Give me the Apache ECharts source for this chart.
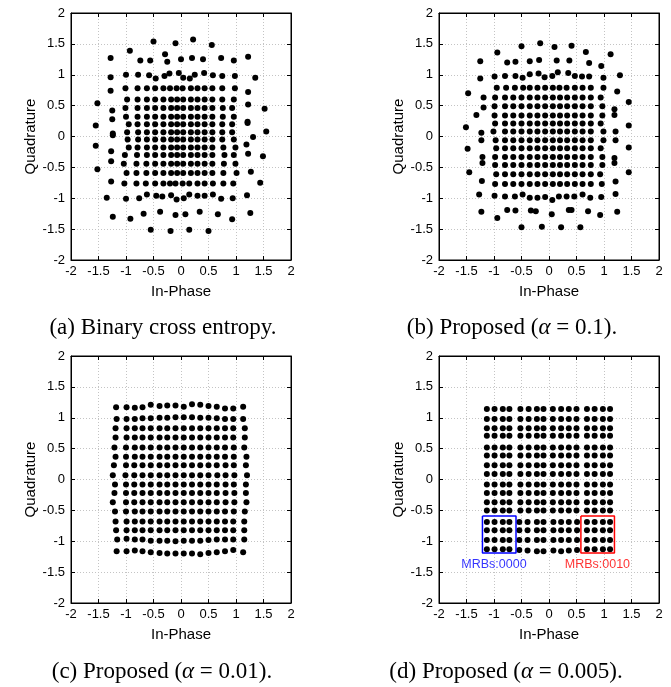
<!DOCTYPE html>
<html><head><meta charset="utf-8">
<script src="https://cdn.jsdelivr.net/npm/echarts@6/dist/echarts.min.js"></script>
<style>html,body{margin:0;padding:0;background:#fff}#c{width:671px;height:687px}</style>
</head><body><div id="c"></div>
<script>
// ---- Data ----
const tickValues = [-2, -1.5, -1, -0.5, 0, 0.5, 1, 1.5, 2];
const captions = ['(a) Binary cross entropy.', '(b) Proposed ({i|α} = 0.1).', '(c) Proposed ({i|α} = 0.01).', '(d) Proposed ({i|α} = 0.005).'];
const xName = 'In-Phase';
const yName = 'Quadrature';

// Panel (a): inner grid rows [y, xs] and outer points [x, y]
const aRows = [
  [0.78, [-1.01,-0.79,-0.62,-0.47,-0.32,-0.20,-0.08,0.03,0.18,0.30,0.43,0.57,0.75,0.98]],
  [0.60, [-0.98,-0.79,-0.62,-0.47,-0.32,-0.18,-0.07,0.04,0.18,0.30,0.43,0.57,0.75,0.96]],
  [0.46, [-1.01,-0.79,-0.62,-0.47,-0.32,-0.18,-0.07,0.04,0.18,0.30,0.43,0.57,0.76,0.93]],
  [0.32, [-1.00,-0.79,-0.62,-0.47,-0.32,-0.18,-0.07,0.04,0.18,0.30,0.43,0.57,0.76,0.96]],
  [0.20, [-0.95,-0.79,-0.62,-0.47,-0.32,-0.18,-0.07,0.04,0.18,0.30,0.43,0.57,0.75,0.93]],
  [0.07, [-0.98,-0.78,-0.62,-0.47,-0.32,-0.18,-0.07,0.04,0.18,0.30,0.43,0.57,0.75,0.93]],
  [-0.05,[-0.97,-0.78,-0.62,-0.47,-0.32,-0.18,-0.07,0.04,0.18,0.30,0.43,0.57,0.75,0.96]],
  [-0.18,[-0.95,-0.79,-0.62,-0.47,-0.32,-0.18,-0.07,0.04,0.18,0.30,0.43,0.57,0.77,0.99]],
  [-0.30,[-1.02,-0.80,-0.62,-0.47,-0.32,-0.18,-0.07,0.04,0.18,0.30,0.43,0.57,0.79,0.96]],
  [-0.44,[-1.04,-0.81,-0.63,-0.47,-0.32,-0.18,-0.07,0.04,0.18,0.30,0.43,0.57,0.78,0.99]],
  [-0.59,[-0.99,-0.81,-0.63,-0.47,-0.32,-0.18,-0.07,0.04,0.18,0.30,0.43,0.57,0.77,1.01]],
  [-0.76,[-1.03,-0.81,-0.64,-0.47,-0.32,-0.20,-0.10,0.03,0.15,0.30,0.43,0.58,0.77,0.95]]
];
const aOuter = [
  [-0.50,1.54],[-0.10,1.51],[0.22,1.57],[0.56,1.48],
  [-0.93,1.39],[-0.29,1.33],[-1.28,1.27],[1.22,1.29],[-0.74,1.23],[-0.56,1.23],[-0.25,1.21],[0.00,1.25],[0.20,1.27],[0.40,1.25],[0.73,1.27],[0.96,1.23],
  [-1.28,0.96],[-1.00,1.00],[-0.78,1.00],[-0.58,0.99],[-0.46,0.94],[-0.30,0.98],[-0.21,1.02],[-0.04,1.03],[0.04,0.95],[0.16,0.94],[0.25,1.00],[0.42,1.03],[0.58,0.99],[0.75,0.98],[0.98,0.98],[1.35,0.95],
  [-1.28,0.74],[-1.52,0.54],[-1.25,0.42],[-1.25,0.28],[-1.55,0.18],[-1.24,0.05],[-1.24,0.02],[-1.55,-0.15],[-1.27,-0.24],[-1.27,-0.40],[-1.52,-0.53],[-1.27,-0.73],
  [1.22,0.72],[1.22,0.52],[1.52,0.45],[1.21,0.24],[1.21,0.22],[1.55,0.08],[1.31,-0.01],[1.19,-0.13],[1.22,-0.28],[1.49,-0.32],[1.27,-0.57],[1.44,-0.75],
  [-1.35,-0.99],[-1.00,-1.01],[-0.76,-1.00],[-0.62,-0.94],[-0.45,-0.96],[-0.34,-0.97],[-0.18,-0.95],[-0.08,-1.02],[0.05,-1.00],[0.15,-0.94],[0.30,-0.96],[0.43,-0.96],[0.58,-0.94],[0.73,-1.01],[0.94,-1.00],[1.20,-0.95],
  [-1.24,-1.30],[-0.92,-1.33],[-0.68,-1.25],[-0.38,-1.22],[-0.10,-1.27],[0.08,-1.26],[0.34,-1.22],[0.67,-1.26],[0.93,-1.34],[1.26,-1.24],
  [-0.55,-1.51],[-0.19,-1.53],[0.15,-1.51],[0.50,-1.53]
];

// Panel (b)
const bRows = [
  [0.79, [-0.95,-0.78,-0.62,-0.47,-0.35,-0.21,-0.07,0.07,0.19,0.32,0.47,0.61,0.76,0.99]],
  [0.63, [-0.98,-0.80,-0.65,-0.50,-0.35,-0.21,-0.07,0.07,0.20,0.33,0.47,0.61,0.76,0.94]],
  [0.49, [-0.99,-0.80,-0.65,-0.50,-0.35,-0.21,-0.07,0.07,0.20,0.33,0.47,0.61,0.76,0.97]],
  [0.34, [-0.99,-0.80,-0.65,-0.50,-0.35,-0.21,-0.07,0.07,0.20,0.33,0.47,0.61,0.76,0.97]],
  [0.21, [-0.98,-0.80,-0.65,-0.50,-0.35,-0.21,-0.07,0.07,0.20,0.33,0.47,0.61,0.76,0.94]],
  [0.08, [-1.01,-0.80,-0.65,-0.50,-0.35,-0.21,-0.07,0.07,0.20,0.33,0.47,0.61,0.76,0.99]],
  [-0.06,[-0.97,-0.80,-0.65,-0.50,-0.35,-0.21,-0.07,0.07,0.20,0.33,0.47,0.61,0.76,0.99]],
  [-0.19,[-0.96,-0.80,-0.65,-0.50,-0.35,-0.21,-0.07,0.07,0.20,0.33,0.47,0.61,0.76,0.94]],
  [-0.33,[-0.98,-0.80,-0.65,-0.50,-0.35,-0.21,-0.07,0.07,0.20,0.33,0.47,0.61,0.76,0.97]],
  [-0.46,[-0.98,-0.80,-0.65,-0.50,-0.35,-0.21,-0.07,0.07,0.20,0.33,0.47,0.61,0.76,0.97]],
  [-0.61,[-0.96,-0.80,-0.65,-0.50,-0.35,-0.21,-0.07,0.07,0.20,0.33,0.47,0.61,0.76,0.93]],
  [-0.77,[-0.98,-0.80,-0.65,-0.50,-0.35,-0.21,-0.07,0.07,0.20,0.33,0.47,0.61,0.76,0.96]]
];
const bOuter = [
  [-0.50,1.46],[-0.16,1.51],[0.10,1.45],[0.41,1.47],[-0.94,1.36],[0.67,1.37],[1.12,1.33],[-1.25,1.22],[-0.76,1.20],[-0.61,1.21],[-0.35,1.22],[-0.18,1.24],[0.14,1.23],[0.37,1.23],[0.73,1.19],[0.95,1.14],
  [-1.25,0.94],[-0.99,0.97],[-0.80,0.98],[-0.61,0.98],[-0.48,0.95],[-0.35,1.01],[-0.19,1.02],[-0.08,0.96],[0.06,0.98],[0.16,1.04],[0.35,1.03],[0.47,0.98],[0.60,0.97],[0.73,0.97],[0.99,0.95],[1.29,0.99],
  [-1.47,0.70],[-1.19,0.63],[-1.19,0.47],[-1.32,0.35],[-1.51,0.15],[-1.23,0.06],[-1.23,-0.06],[-1.48,-0.20],[-1.21,-0.33],[-1.21,-0.43],[-1.45,-0.58],[-1.22,-0.72],[-1.27,-0.94],[-1.23,-1.22],
  [1.24,0.73],[1.45,0.56],[1.19,0.44],[1.19,0.35],[1.45,0.18],[1.21,0.08],[1.21,-0.06],[1.45,-0.18],[1.19,-0.35],[1.19,-0.43],[1.45,-0.58],[1.21,-0.73],[1.21,-0.93],[1.24,-1.22],
  [-0.99,-0.96],[-0.80,-0.97],[-0.62,-0.97],[-0.48,-0.94],[-0.35,-0.99],[-0.21,-0.99],[-0.07,-0.98],[0.06,-1.03],[0.18,-0.97],[0.32,-0.97],[0.46,-0.97],[0.61,-0.94],[0.75,-0.99],[0.95,-0.98],
  [-0.94,-1.32],[-0.76,-1.19],[-0.61,-1.20],[-0.33,-1.20],[-0.24,-1.21],[0.05,-1.26],[0.36,-1.19],[0.41,-1.19],[0.71,-1.21],[0.93,-1.27],
  [-0.50,-1.47],[-0.13,-1.46],[0.22,-1.47],[0.57,-1.47]
];

// Panel (c): rows [y (or per-point ys), xs]
const cRows = [
  [[1.17,1.17,1.16,1.17,1.21,1.19,1.20,1.20,1.18,1.22,1.21,1.19,1.18,1.15,1.15,1.18], [-1.18,-0.99,-0.84,-0.70,-0.55,-0.39,-0.25,-0.10,0.05,0.20,0.35,0.50,0.65,0.80,0.95,1.13]],
  [[0.98,0.98,0.98,0.99,0.99,1.00,1.00,1.01,1.01,1.01,1.00,1.00,0.99,0.98,0.98,0.98], [-1.17,-0.99,-0.84,-0.70,-0.55,-0.39,-0.25,-0.10,0.05,0.20,0.35,0.50,0.65,0.80,0.95,1.13]],
  [0.83, [-1.19,-0.99,-0.84,-0.70,-0.55,-0.39,-0.25,-0.10,0.05,0.20,0.35,0.50,0.65,0.80,0.95,1.16]],
  [0.68, [-1.19,-0.99,-0.84,-0.70,-0.55,-0.39,-0.25,-0.10,0.05,0.20,0.35,0.50,0.65,0.80,0.95,1.16]],
  [0.52, [-1.21,-1.00,-0.84,-0.70,-0.55,-0.39,-0.25,-0.10,0.05,0.20,0.35,0.50,0.65,0.80,0.96,1.15]],
  [0.37, [-1.19,-1.00,-0.84,-0.70,-0.55,-0.39,-0.25,-0.10,0.05,0.20,0.35,0.50,0.65,0.80,0.96,1.19]],
  [0.23, [-1.22,-1.00,-0.85,-0.70,-0.55,-0.39,-0.25,-0.10,0.05,0.20,0.35,0.50,0.65,0.81,0.96,1.18]],
  [0.07, [-1.24,-1.01,-0.85,-0.70,-0.55,-0.39,-0.25,-0.10,0.05,0.20,0.35,0.50,0.66,0.81,0.97,1.20]],
  [-0.08,[-1.20,-1.00,-0.85,-0.70,-0.55,-0.39,-0.25,-0.10,0.05,0.20,0.35,0.50,0.65,0.81,0.96,1.18]],
  [-0.22,[-1.21,-1.00,-0.85,-0.70,-0.55,-0.39,-0.25,-0.10,0.05,0.20,0.35,0.50,0.65,0.81,0.97,1.18]],
  [-0.37,[-1.24,-1.00,-0.85,-0.70,-0.55,-0.39,-0.25,-0.10,0.05,0.20,0.35,0.50,0.65,0.81,0.97,1.19]],
  [-0.52,[-1.20,-1.00,-0.84,-0.70,-0.55,-0.39,-0.25,-0.10,0.05,0.20,0.35,0.50,0.65,0.80,0.96,1.16]],
  [-0.68,[-1.19,-0.99,-0.84,-0.70,-0.55,-0.39,-0.25,-0.10,0.05,0.20,0.35,0.50,0.65,0.80,0.95,1.15]],
  [-0.82,[-1.18,-0.99,-0.84,-0.70,-0.55,-0.39,-0.25,-0.10,0.05,0.20,0.35,0.50,0.65,0.80,0.95,1.15]],
  [[-0.97,-0.96,-0.97,-0.97,-0.99,-0.99,-0.99,-1.00,-0.99,-0.99,-0.99,-0.98,-0.97,-0.97,-0.97,-0.97], [-1.16,-0.99,-0.84,-0.70,-0.55,-0.39,-0.25,-0.10,0.05,0.20,0.35,0.50,0.65,0.80,0.95,1.15]],
  [[-1.16,-1.16,-1.15,-1.16,-1.18,-1.19,-1.20,-1.20,-1.20,-1.20,-1.21,-1.19,-1.18,-1.16,-1.14,-1.18], [-1.17,-0.99,-0.84,-0.70,-0.55,-0.39,-0.25,-0.10,0.05,0.20,0.35,0.50,0.65,0.80,0.95,1.13]]
];

// Panel (d)
const dRows = [
  [1.14, [-1.13,-0.99,-0.84,-0.72,-0.52,-0.37,-0.22,-0.10,0.07,0.22,0.36,0.50,0.69,0.83,0.98,1.11]],
  [0.98, [-1.13,-0.99,-0.84,-0.72,-0.52,-0.37,-0.22,-0.10,0.07,0.22,0.36,0.50,0.69,0.83,0.98,1.11]],
  [0.83, [-1.13,-0.99,-0.84,-0.72,-0.52,-0.37,-0.22,-0.10,0.07,0.22,0.36,0.50,0.69,0.83,0.98,1.11]],
  [0.71, [-1.13,-0.99,-0.84,-0.72,-0.52,-0.37,-0.22,-0.10,0.07,0.22,0.36,0.50,0.69,0.83,0.98,1.11]],
  [0.52, [-1.13,-0.99,-0.84,-0.72,-0.52,-0.37,-0.22,-0.10,0.07,0.22,0.36,0.50,0.69,0.83,0.98,1.11]],
  [0.39, [-1.13,-0.99,-0.84,-0.72,-0.52,-0.37,-0.22,-0.10,0.07,0.22,0.36,0.50,0.69,0.83,0.98,1.11]],
  [0.23, [-1.13,-0.99,-0.84,-0.72,-0.52,-0.37,-0.22,-0.10,0.07,0.22,0.36,0.50,0.69,0.83,0.98,1.11]],
  [0.09, [-1.13,-0.99,-0.84,-0.72,-0.52,-0.37,-0.22,-0.10,0.07,0.22,0.36,0.50,0.69,0.83,0.98,1.11]],
  [-0.08,[-1.13,-0.99,-0.84,-0.72,-0.52,-0.37,-0.22,-0.10,0.07,0.22,0.36,0.50,0.69,0.83,0.98,1.11]],
  [-0.22,[-1.13,-0.99,-0.84,-0.72,-0.52,-0.37,-0.22,-0.10,0.07,0.22,0.36,0.50,0.69,0.83,0.98,1.11]],
  [-0.37,[-1.13,-0.99,-0.84,-0.72,-0.52,-0.37,-0.22,-0.10,0.07,0.22,0.36,0.50,0.69,0.83,0.98,1.11]],
  [-0.50,[-1.13,-0.99,-0.84,-0.72,-0.52,-0.37,-0.22,-0.10,0.07,0.22,0.36,0.50,0.69,0.83,0.98,1.11]],
  [-0.69,[-1.13,-0.99,-0.84,-0.72,-0.54,-0.39,-0.22,-0.10,0.08,0.22,0.36,0.51,0.69,0.83,0.98,1.11]],
  [-0.82,[-1.13,-0.99,-0.84,-0.72,-0.54,-0.39,-0.22,-0.10,0.08,0.22,0.36,0.51,0.69,0.83,0.98,1.11]],
  [-0.98,[-1.13,-0.99,-0.84,-0.72,-0.54,-0.39,-0.22,-0.10,0.08,0.22,0.36,0.51,0.69,0.83,0.98,1.11]],
  [[-1.13,-1.13,-1.13,-1.13,-1.14,-1.15,-1.16,-1.16,-1.15,-1.16,-1.15,-1.14,-1.13,-1.13,-1.13,-1.13], [-1.13,-0.99,-0.84,-0.72,-0.54,-0.39,-0.22,-0.10,0.08,0.22,0.36,0.51,0.69,0.83,0.98,1.11]]
];
// MRB boxes in panel (d): [xmin, xmax, ymin, ymax]
const blueBox = [-1.21, -0.60, -1.19, -0.59];
const redBox = [0.58, 1.19, -1.19, -0.59];
const boxLabels = [[-1.00, -1.37, 'MRBs:0000'], [0.88, -1.37, 'MRBs:0010']];

// ---- Build ----
function rowsToPts(rows) {
  const out = [];
  rows.forEach(r => {
    const ys = r[0], xs = r[1];
    xs.forEach((x, i) => out.push([x, Array.isArray(ys) ? ys[i] : ys]));
  });
  return out;
}
function boxPoly(b) {
  return [[b[0], b[3]], [b[1], b[3]], [b[1], b[2]], [b[0], b[2]], [b[0], b[3]]];
}
const panels = [
  rowsToPts(aRows).concat(aOuter),
  rowsToPts(bRows).concat(bOuter),
  rowsToPts(cRows),
  rowsToPts(dRows)
];
const grids = [
  {left: 71, top: 13, width: 220, height: 247},
  {left: 439, top: 13, width: 220, height: 247},
  {left: 71, top: 356, width: 220, height: 247},
  {left: 439, top: 356, width: 220, height: 247}
];
const capPos = [[158, 311], [507, 311], [157, 655], [501, 655]];

const FONT = 'Liberation Sans';
const gridLine = {show: true, lineStyle: {color: '#c4c4c4', type: [1, 2], width: 1}};
const xAxes = [], yAxes = [];
grids.forEach((g, i) => {
  xAxes.push({gridIndex: i, type: 'value', min: -2, max: 2, interval: 0.5, position: 'bottom',
    axisLine: {onZero: false, lineStyle: {color: '#000', width: 1}},
    axisTick: {inside: true, length: 4, lineStyle: {color: '#000'}},
    axisLabel: {color: '#000', fontFamily: FONT, fontSize: 13, margin: 5},
    splitLine: gridLine,
    name: xName, nameLocation: 'middle', nameGap: 24,
    nameTextStyle: {color: '#000', fontFamily: FONT, fontSize: 15}});
  yAxes.push({gridIndex: i, type: 'value', min: -2, max: 2, interval: 0.5, position: 'left',
    axisLine: {onZero: false, lineStyle: {color: '#000', width: 1}},
    axisTick: {inside: true, length: 4, lineStyle: {color: '#000'}},
    axisLabel: {color: '#000', fontFamily: FONT, fontSize: 13, margin: 6},
    splitLine: gridLine,
    name: yName, nameLocation: 'middle', nameGap: 28, nameRotate: 90,
    nameTextStyle: {color: '#000', fontFamily: FONT, fontSize: 15}});
});
grids.forEach((g, i) => {
  xAxes.push({gridIndex: i, type: 'value', min: -2, max: 2, interval: 0.5, position: 'top',
    axisLine: {onZero: false, lineStyle: {color: '#000'}},
    axisTick: {inside: true, length: 4, lineStyle: {color: '#000'}},
    axisLabel: {show: false}, splitLine: {show: false}});
  yAxes.push({gridIndex: i, type: 'value', min: -2, max: 2, interval: 0.5, position: 'right',
    axisLine: {onZero: false, lineStyle: {color: '#000'}},
    axisTick: {inside: true, length: 4, lineStyle: {color: '#000'}},
    axisLabel: {show: false}, splitLine: {show: false}});
});

const series = panels.map((pts, i) => ({
  type: 'scatter', xAxisIndex: i, yAxisIndex: i, data: pts,
  symbolSize: 6, itemStyle: {color: '#000', opacity: 1}, silent: true, animation: false
}));
series.push({type: 'line', xAxisIndex: 3, yAxisIndex: 3, data: boxPoly(blueBox), symbol: 'none',
  lineStyle: {color: '#0000ff', width: 1.5}, silent: true, animation: false});
series.push({type: 'line', xAxisIndex: 3, yAxisIndex: 3, data: boxPoly(redBox), symbol: 'none',
  lineStyle: {color: '#ff0000', width: 1.5}, silent: true, animation: false});
series.push({type: 'scatter', xAxisIndex: 3, yAxisIndex: 3, symbolSize: 0, silent: true, animation: false,
  data: boxLabels.map((l, k) => ({value: [l[0], l[1]], name: l[2],
    label: {show: true, position: 'inside', formatter: l[2], color: k === 0 ? '#0000ff' : '#ff0000',
      fontFamily: FONT, fontSize: 12.5}}))});

const titles = captions.map((t, i) => ({
  text: t, left: capPos[i][0], top: capPos[i][1], textAlign: 'center',
  textStyle: {fontFamily: 'Liberation Serif', fontSize: 23, fontWeight: 'normal', color: '#000',
    rich: {i: {fontFamily: 'Liberation Serif', fontStyle: 'italic', fontSize: 23, color: '#000'}}}
}));

const chart = echarts.init(document.getElementById('c'), null, {renderer: 'canvas'});
chart.setOption({
  animation: false,
  backgroundColor: '#fff',
  title: titles,
  grid: grids.map(g => Object.assign({show: true, borderColor: '#000', borderWidth: 1, backgroundColor: '#fff'}, g)),
  xAxis: xAxes,
  yAxis: yAxes,
  series: series
});
</script>
</body></html>
